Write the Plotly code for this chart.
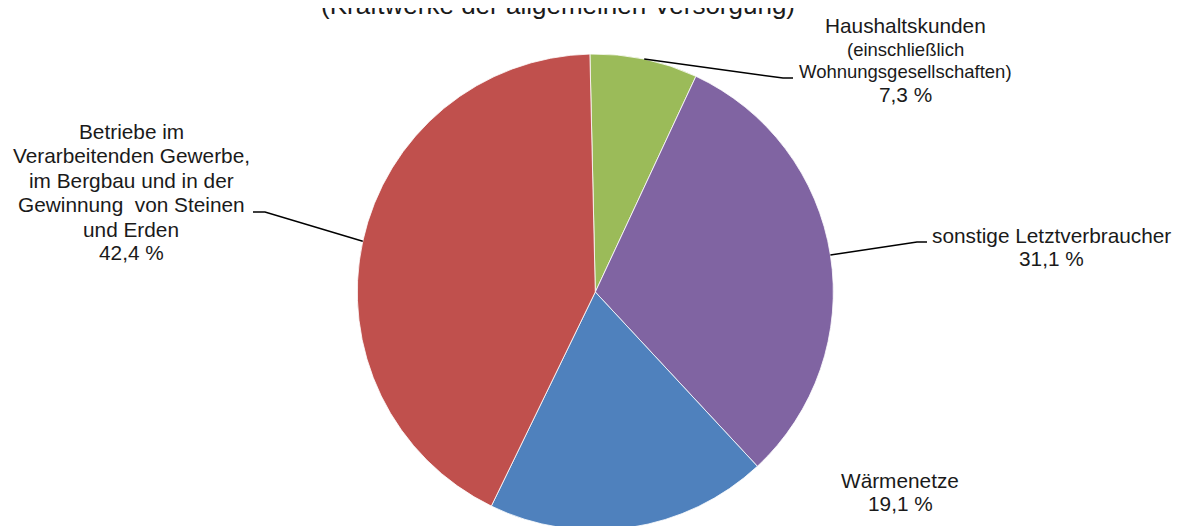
import math
import plotly.graph_objects as go

# ---- data ----
categories = ["Haushaltskunden", "sonstige Letztverbraucher", "Wärmenetze", "Betriebe"]
values = [7.3, 31.1, 19.1, 42.4]
colors = ["#9BBB59", "#8064A2", "#4F81BD", "#C0504D"]
label_lines = [
    ["Haushaltskunden", "(einschließlich", "Wohnungsgesellschaften)", "7,3 %"],
    ["sonstige Letztverbraucher", "31,1 %"],
    ["Wärmenetze", "19,1 %"],
    ["Betriebe im", "Verarbeitenden Gewerbe,", "im Bergbau und in der",
     "Gewinnung  von Steinen", "und Erden", "42,4 %"],
]
subtitle = "(Kraftwerke der allgemeinen Versorgung)"

# ---- layout (target page pixels; page body has an 8px margin) ----
OFF = 8
W, H = 1175, 522
CX, CY, R = 595.3, 292.0, 238.0
ROT = -1.3
FONT = "Liberation Sans, Arial, sans-serif"
TXT = "#1a1a1a"

# label layout: x centre, per-line y, per-line font size
label_pos = [
    (905, [26, 49, 71, 95], [20.8, 18.5, 18.5, 20.8]),
    (1051, [235, 258.5], [20.8, 20.8]),
    (900, [480, 503], [20.8, 20.8]),
    (131, [131.5, 155.5, 180, 204.5, 229, 253], [20.8] * 6),
]
# leader elbows (elbow point, end point) or None
leaders = [((783, 78), (793, 78)), ((917, 242), (927, 242)), None, ((265, 212), (253, 212))]


def px(x):
    return (x - OFF) / W


def py(y):
    return 1 - (y - OFF) / H


fig = go.Figure(go.Pie(
    labels=categories, values=values, sort=False, direction="clockwise",
    rotation=ROT, marker=dict(colors=colors, line=dict(color="white", width=0.8)),
    textinfo="none", hoverinfo="skip", showlegend=False,
    domain=dict(x=[px(CX - R), px(CX + R)], y=[max(0, py(CY + R)), min(1, py(CY - R))]),
))

annotations = []
shapes = []
total = sum(values)
start = ROT
for i, v in enumerate(values):
    ang = v / total * 360
    mid = math.radians(start + ang / 2)
    start += ang
    cx, lys, fss = label_pos[i]
    for t, y, fs in zip(label_lines[i], lys, fss):
        annotations.append(dict(text=t, x=px(cx), y=py(y), xref="paper", yref="paper",
                                xanchor="center", yanchor="middle", showarrow=False,
                                font=dict(family=FONT, size=fs, color=TXT)))
    if leaders[i] is not None:
        ex = CX + R * math.sin(mid)
        ey = CY - R * math.cos(mid)
        (bx, by), (tx, ty) = leaders[i]
        path = f"M {px(ex)},{py(ey)} L {px(bx)},{py(by)} L {px(tx)},{py(ty)}"
        shapes.append(dict(type="path", path=path, xref="paper", yref="paper",
                           line=dict(color="black", width=1.5)))

annotations.append(dict(text=subtitle, x=px(558), y=py(4.5), xref="paper", yref="paper",
                        xanchor="center", yanchor="middle", showarrow=False,
                        font=dict(family=FONT, size=26, color=TXT)))

fig.update_layout(width=W, height=H, margin=dict(l=0, r=0, t=0, b=0),
                  paper_bgcolor="white", plot_bgcolor="white",
                  annotations=annotations, shapes=shapes)
fig.write_html("out.html")
